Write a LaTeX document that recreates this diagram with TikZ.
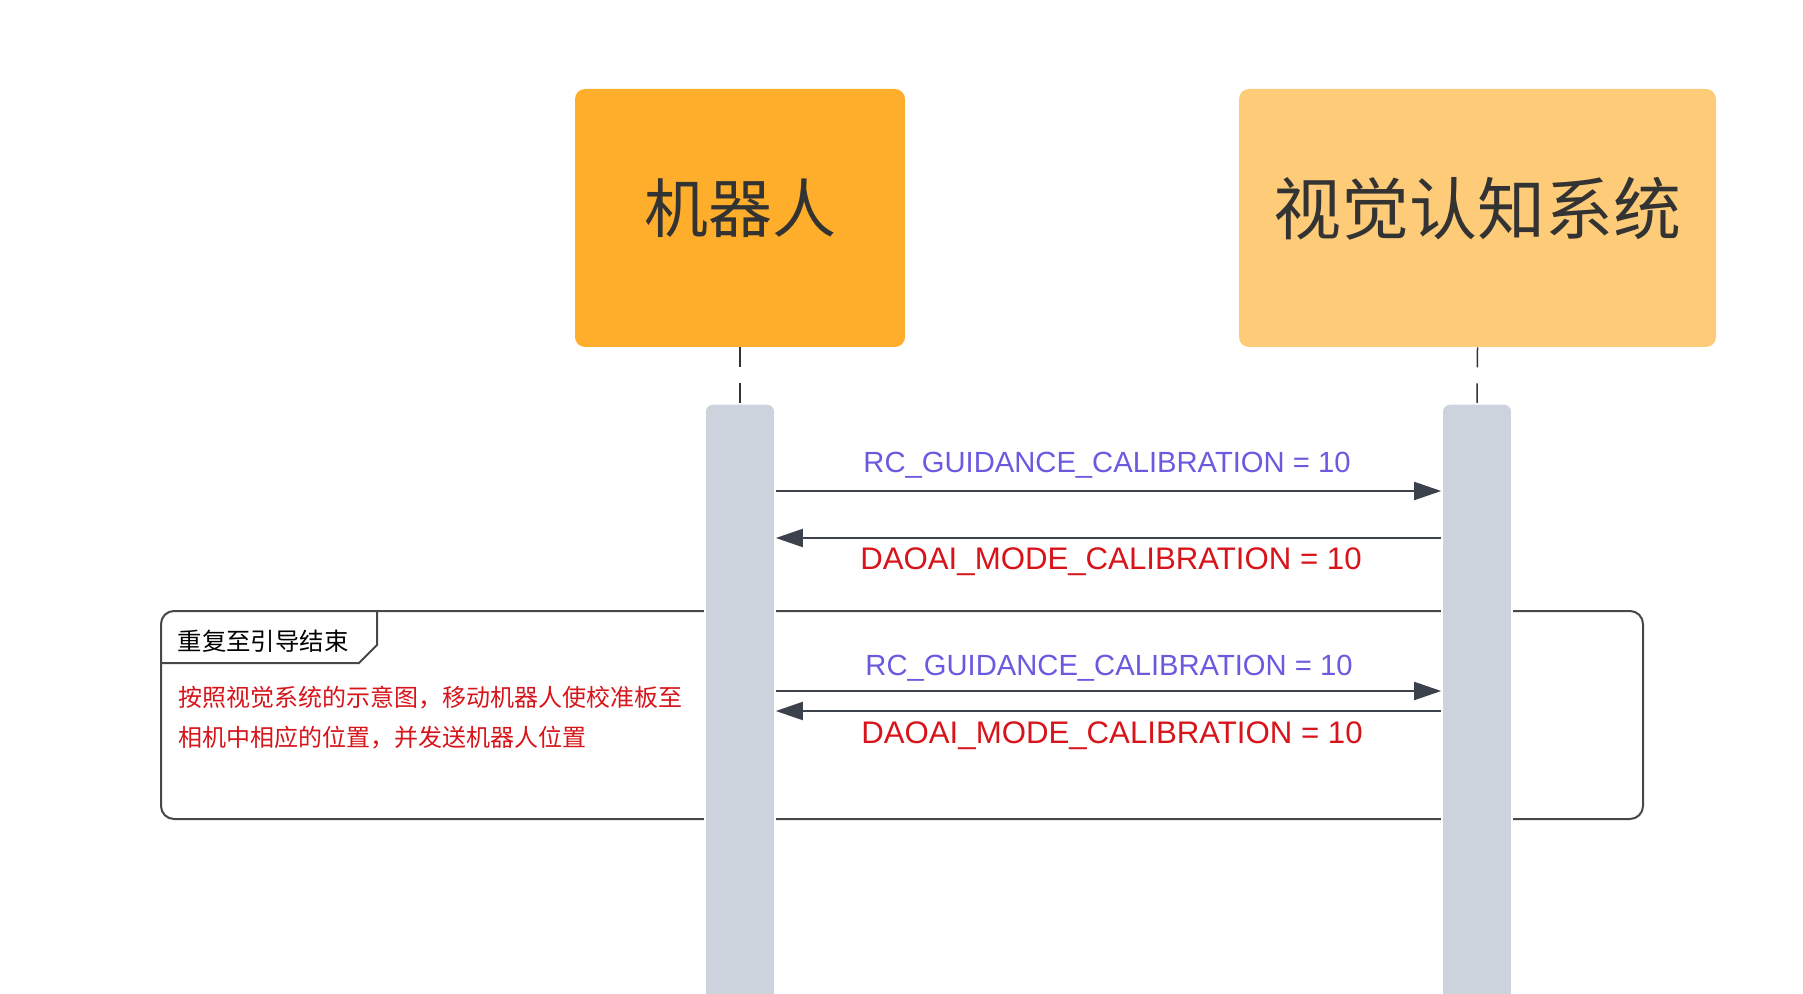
\documentclass[tikz,border=0pt]{standalone}
\usepackage{fontspec}
\usepackage{tikz}
\usetikzlibrary{arrows.meta}
\newfontfamily\cjkfont{Noto Sans CJK SC}
\newfontfamily\msgfont{Liberation Sans}
\definecolor{robotorange}{HTML}{FEAE2B}
\definecolor{visionyellow}{HTML}{FECC79}
\definecolor{bargray}{HTML}{CCD3DC}
\definecolor{arrowgray}{HTML}{3C424C}
\definecolor{textgray}{HTML}{333333}
\definecolor{msgblue}{HTML}{6A5AE0}
\definecolor{msgred}{HTML}{D7141A}
\tikzset{>={Triangle[length=13.5pt,width=9pt]}}

\begin{document}
\begin{tikzpicture}[x=0.5pt,y=-0.5pt,
        actor/.style={fill=#1,rounded corners=5pt,minimum height=129pt,inner sep=0pt,text depth=12pt,text=textgray,font=\cjkfont\fontsize{32pt}{36pt}\selectfont},
        bar/.style={fill=bargray,draw=white,line width=0.8pt,rounded corners=4pt,minimum width=35pt,minimum height=305pt,inner sep=0pt,anchor=north},
        lifeline/.style={draw=textgray,line width=0.75pt,dash pattern=on 10pt off 8pt},
        frame/.style={draw=textgray!90,line width=1pt},
        msg/.style={->,draw=arrowgray,line width=1pt},
        calltext/.style={anchor=base,text=msgblue,font=\msgfont\fontsize{14.6pt}{17pt}\selectfont},
        replytext/.style={anchor=base,text=msgred,font=\msgfont\fontsize{15.6pt}{18pt}\selectfont}]
        \useasboundingbox (0,0) rectangle (1803,994);

        \node[actor=robotorange,minimum width=165pt] at (740,218) (robot) {机器人};
        \node[actor=visionyellow,minimum width=238.5pt,font=\cjkfont\fontsize{34pt}{38pt}\selectfont] at (1477.5,218) (vision) {视觉认知系统};

        \coordinate (robottop) at (740,403);
        \coordinate (visiontop) at (1477,403);
        \draw[lifeline] (robot.south) -- (robottop);
        \draw[lifeline] (vision.south) -- (visiontop);

        % loop frame
        \draw[frame,rounded corners=6.5pt] (161,611) rectangle (1643,819);
        \draw[frame] (161,663) -- (359,663) -- (377,645) -- (377,611);
        \node[text=black,font=\cjkfont\fontsize{12.2pt}{14pt}\selectfont] at (263,641) (looplabel) {重复至引导结束};
        \node[anchor=west,align=left,inner sep=0pt,text=msgred,font=\cjkfont\fontsize{12pt}{20pt}\selectfont] at (178,718) (loopnote) {按照视觉系统的示意图，移动机器人使校准板至\\相机中相应的位置，并发送机器人位置};

        \node[bar] at (robottop) (robotbar) {};
        \node[bar] at (visiontop) (visionbar) {};

        \coordinate (m1) at (0,491);
        \coordinate (m2) at (0,538);
        \coordinate (m3) at (0,691);
        \coordinate (m4) at (0,711);
        \draw[msg] (robotbar.east |- m1) -- (visionbar.west |- m1);
        \draw[msg] (visionbar.west |- m2) -- (robotbar.east |- m2);
        \draw[msg] (robotbar.east |- m3) -- (visionbar.west |- m3);
        \draw[msg] (visionbar.west |- m4) -- (robotbar.east |- m4);

        \node[calltext] at (1107,472) (call1) {RC\_GUIDANCE\_CALIBRATION = 10};
        \node[replytext] at (1111,569) (reply1) {DAOAI\_MODE\_CALIBRATION = 10};
        \node[calltext] at (1109,675) (call2) {RC\_GUIDANCE\_CALIBRATION = 10};
        \node[replytext] at (1112,743) (reply2) {DAOAI\_MODE\_CALIBRATION = 10};

\end{tikzpicture}
\end{document}
